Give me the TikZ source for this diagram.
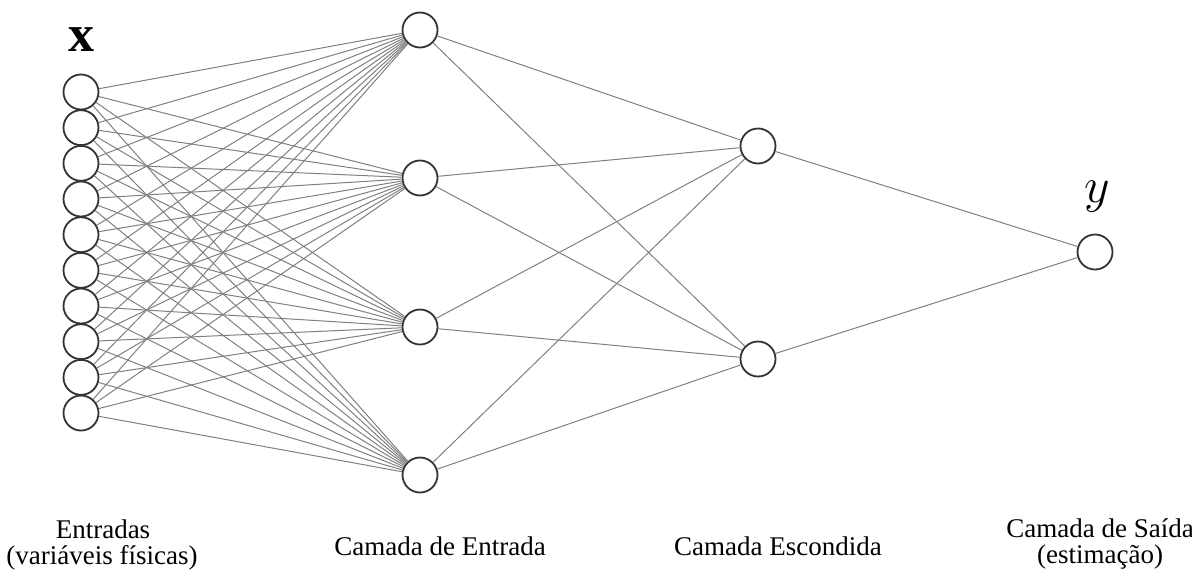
\documentclass[tikz,border=0pt]{standalone}
\usepackage{fontspec}
\setmainfont{Liberation Serif}
\begin{document}
\begin{tikzpicture}[x=0.5pt,y=-0.5pt,
  neuron/.style={circle,draw=black!80,line width=0.9pt,fill=white,minimum size=17.5pt,inner sep=0pt},
  conn/.style={draw=black!50,line width=0.5pt},
  lbl/.style={font=\fontsize{13.5}{13}\selectfont,align=center,inner sep=0pt}]
\useasboundingbox (0,0) rectangle (1192,578);
% input nodes
\foreach \i in {1,...,10} {
  \node[neuron] (in\i) at (81,{92+(\i-1)*35.67}) {};
}
% first layer
\foreach \j/\yy in {1/30,2/178,3/327,4/475} {
  \node[neuron] (a\j) at (420,\yy) {};
}
% hidden layer
\foreach \k/\yy in {1/146,2/359} {
  \node[neuron] (h\k) at (758,\yy) {};
}
% output
\node[neuron] (o) at (1095,252) {};
% connections
\foreach \i in {1,...,10} {
  \foreach \j in {1,...,4} {
    \draw[conn] (in\i) -- (a\j);
  }
}
\foreach \j in {1,...,4} {
  \foreach \k in {1,2} {
    \draw[conn] (a\j) -- (h\k);
  }
}
\foreach \k in {1,2} {
  \draw[conn] (h\k) -- (o);
}
% labels
\node[font=\fontsize{26}{26}\selectfont] (xl) at (81,40) {$\mathbf{x}$};
\node[font=\fontsize{24}{24}\selectfont] (yl) at (1097,197) {$y$};
\node[lbl,anchor=base] (l1a) at (103,538) {Entradas};
\node[lbl,anchor=base] (l1b) at (102,564) {(variáveis físicas)};
\node[lbl,anchor=base] (l2) at (440,555) {Camada de Entrada};
\node[lbl,anchor=base] (l3) at (778,555) {Camada Escondida};
\node[lbl,anchor=base] (l4a) at (1100,537) {Camada de Saída};
\node[lbl,anchor=base] (l4b) at (1100,563) {(estimação)};
\end{tikzpicture}
\end{document}
